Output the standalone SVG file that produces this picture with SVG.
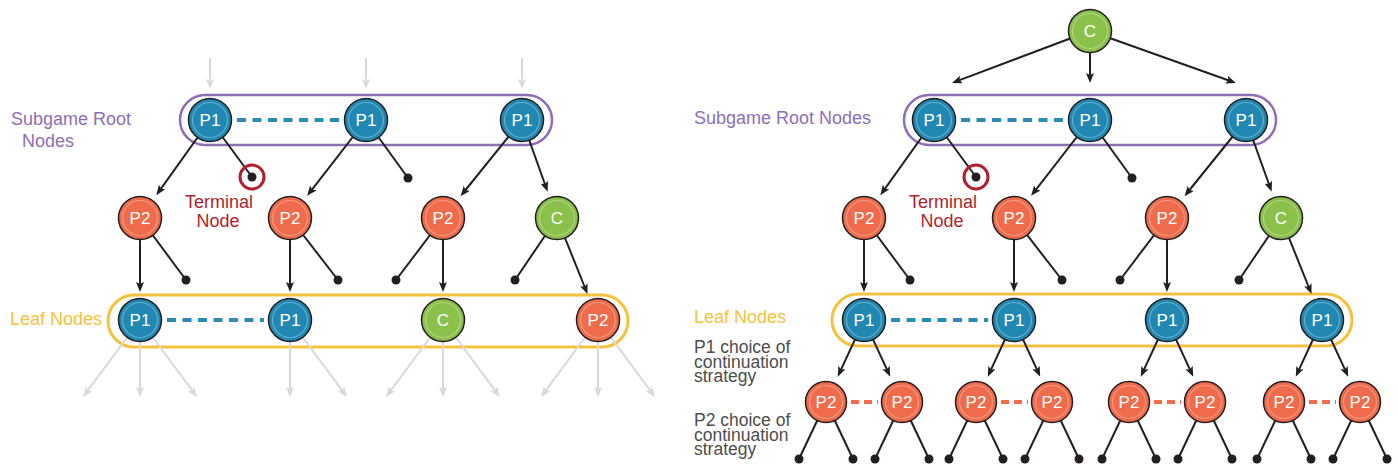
<svg xmlns="http://www.w3.org/2000/svg" width="1398" height="466" viewBox="0 0 1398 466">
<defs>
<style>
.bg{fill:#fff}
.o{stroke:#231f20;stroke-width:1.5}
.blue{fill:#2088b2}
.orange{fill:#ef6b4b}
.green{fill:#8bc04a}
.ring{fill:none;stroke:#fff;stroke-opacity:.32;stroke-width:1.2}
.nt{fill:#fff;font-family:"Liberation Sans",Arial,sans-serif;font-size:17px;text-anchor:middle}
.e{stroke:#231f20;stroke-width:2;fill:none}
.ea{stroke:#231f20;stroke-width:2;fill:none;marker-end:url(#ah)}
.g{stroke:#d9d9d9;stroke-width:2;fill:none;marker-end:url(#gh)}
.dot{fill:#231f20}
.dB{stroke:#2a8db5;stroke-width:4;stroke-dasharray:9 6.5;fill:none}
.dO{stroke:#f26b4c;stroke-width:4;stroke-dasharray:8 5;fill:none}
.purple{fill:none;stroke:#8d6fb4;stroke-width:2.5}
.yellow{fill:none;stroke:#f5c23e;stroke-width:3}
.lab{font-family:"Liberation Sans",Arial,sans-serif;font-size:18px}
.sm{font-size:17.5px}
.lp{fill:#8d6fb4}
.ly{fill:#f5c23e}
.lr{fill:#b11f2e;text-anchor:middle}
.lg{fill:#4d4d4d}
.term{fill:none;stroke:#b11f2e;stroke-width:3}
</style>
<marker id="ah" viewBox="0 0 10 8" refX="4" refY="4" markerWidth="10" markerHeight="8" markerUnits="userSpaceOnUse" orient="auto">
<path d="M0,0 L10,4 L0,8 L2,4 z" fill="#231f20"/>
</marker>
<marker id="gh" viewBox="0 0 10 8" refX="4" refY="4" markerWidth="10" markerHeight="8" markerUnits="userSpaceOnUse" orient="auto">
<path d="M0,0 L10,4 L0,8 L2,4 z" fill="#d9d9d9"/>
</marker>
</defs>
<rect class="bg" x="0" y="0" width="1398" height="466"/>

<g id="groups">
<rect class="purple" x="180" y="95" width="372" height="50" rx="25"/>
<rect class="yellow" x="108" y="295" width="520" height="52" rx="26"/>
<rect class="purple" x="904" y="95" width="372" height="50" rx="25"/>
<rect class="yellow" x="832" y="294" width="520" height="52" rx="26"/>
</g>

<g id="labels">
<text class="lab lp" x="11" y="125">Subgame Root</text>
<text class="lab lp" x="22" y="147">Nodes</text>
<text class="lab ly" x="10" y="325">Leaf Nodes</text>
<text class="lab lr" x="219" y="208">Terminal</text>
<text class="lab lr" x="218" y="227">Node</text>
<text class="lab lp" x="694" y="124">Subgame Root Nodes</text>
<text class="lab ly" x="694" y="323">Leaf Nodes</text>
<text class="lab lr" x="943" y="208">Terminal</text>
<text class="lab lr" x="942" y="227">Node</text>
<text class="lab sm lg" x="694" y="353">P1 choice of</text>
<text class="lab sm lg" x="694" y="368">continuation</text>
<text class="lab sm lg" x="694" y="382">strategy</text>
<text class="lab sm lg" x="694" y="426">P2 choice of</text>
<text class="lab sm lg" x="694" y="441">continuation</text>
<text class="lab sm lg" x="694" y="455">strategy</text>
</g>

<g id="connectors">
<line class="g" x1="210" y1="58" x2="210" y2="83"/>
<line class="g" x1="366" y1="58" x2="366" y2="83"/>
<line class="g" x1="522" y1="58" x2="522" y2="83"/>
<line class="ea" x1="210" y1="120" x2="159.8" y2="190.3"/>
<line class="e" x1="210" y1="120" x2="252" y2="177"/>
<line class="ea" x1="366" y1="120" x2="310.8" y2="191.1"/>
<line class="e" x1="366" y1="120" x2="408" y2="178"/>
<line class="ea" x1="522" y1="120" x2="464.3" y2="191.5"/>
<line class="ea" x1="522" y1="120" x2="545.6" y2="186"/>
<line class="ea" x1="140" y1="218" x2="140" y2="286"/>
<line class="e" x1="140" y1="218" x2="186" y2="280"/>
<line class="ea" x1="290" y1="218" x2="290" y2="286"/>
<line class="e" x1="290" y1="218" x2="338" y2="280"/>
<line class="ea" x1="443" y1="218" x2="443" y2="286"/>
<line class="e" x1="443" y1="218" x2="396" y2="280"/>
<line class="ea" x1="557" y1="218" x2="585.3" y2="288.5"/>
<line class="e" x1="557" y1="218" x2="515" y2="280"/>
<line class="g" x1="140" y1="320" x2="86.6" y2="392.2"/>
<line class="g" x1="140" y1="320" x2="140" y2="391"/>
<line class="g" x1="140" y1="320" x2="193.4" y2="392.2"/>
<line class="g" x1="290" y1="320" x2="290" y2="391"/>
<line class="g" x1="290" y1="320" x2="343.4" y2="392.2"/>
<line class="g" x1="443" y1="320" x2="389.6" y2="392.2"/>
<line class="g" x1="443" y1="320" x2="443" y2="391"/>
<line class="g" x1="443" y1="320" x2="496.4" y2="392.2"/>
<line class="g" x1="598" y1="320" x2="544.6" y2="392.2"/>
<line class="g" x1="598" y1="320" x2="598" y2="391"/>
<line class="g" x1="598" y1="320" x2="651.4" y2="392.2"/>
<line class="dB" x1="237" y1="120" x2="340" y2="120"/>
<line class="dB" x1="167" y1="320" x2="264" y2="320"/>

<line class="ea" x1="1090" y1="31" x2="957.6" y2="80.9"/>
<line class="ea" x1="1090" y1="31" x2="1090" y2="77"/>
<line class="ea" x1="1090" y1="31" x2="1230.3" y2="81"/>
<line class="ea" x1="934" y1="120" x2="883.8" y2="190.3"/>
<line class="e" x1="934" y1="120" x2="976" y2="177"/>
<line class="ea" x1="1090" y1="120" x2="1034.8" y2="191.1"/>
<line class="e" x1="1090" y1="120" x2="1132" y2="178"/>
<line class="ea" x1="1246" y1="120" x2="1188.3" y2="191.5"/>
<line class="ea" x1="1246" y1="120" x2="1269.6" y2="186"/>
<line class="ea" x1="864" y1="218" x2="864" y2="286"/>
<line class="e" x1="864" y1="218" x2="910" y2="280"/>
<line class="ea" x1="1014" y1="218" x2="1014" y2="286"/>
<line class="e" x1="1014" y1="218" x2="1062" y2="280"/>
<line class="ea" x1="1167" y1="218" x2="1167" y2="286"/>
<line class="e" x1="1167" y1="218" x2="1120" y2="280"/>
<line class="ea" x1="1281" y1="218" x2="1309.3" y2="288.5"/>
<line class="e" x1="1281" y1="218" x2="1239" y2="280"/>
<line class="ea" x1="864" y1="320" x2="840.3" y2="371.2"/>
<line class="ea" x1="864" y1="320" x2="887.7" y2="371.2"/>
<line class="ea" x1="1014" y1="320" x2="990.3" y2="371.2"/>
<line class="ea" x1="1014" y1="320" x2="1037.7" y2="371.2"/>
<line class="ea" x1="1167" y1="320" x2="1143.3" y2="371.2"/>
<line class="ea" x1="1167" y1="320" x2="1190.7" y2="371.2"/>
<line class="ea" x1="1322" y1="320" x2="1298.3" y2="371.2"/>
<line class="ea" x1="1322" y1="320" x2="1345.7" y2="371.2"/>
<line class="e" x1="826" y1="402" x2="799" y2="459"/>
<line class="e" x1="826" y1="402" x2="853" y2="459"/>
<line class="e" x1="902" y1="402" x2="875" y2="459"/>
<line class="e" x1="902" y1="402" x2="929" y2="459"/>
<line class="e" x1="976" y1="402" x2="949" y2="459"/>
<line class="e" x1="976" y1="402" x2="1003" y2="459"/>
<line class="e" x1="1052" y1="402" x2="1025" y2="459"/>
<line class="e" x1="1052" y1="402" x2="1079" y2="459"/>
<line class="e" x1="1129" y1="402" x2="1102" y2="459"/>
<line class="e" x1="1129" y1="402" x2="1156" y2="459"/>
<line class="e" x1="1205" y1="402" x2="1178" y2="459"/>
<line class="e" x1="1205" y1="402" x2="1232" y2="459"/>
<line class="e" x1="1284" y1="402" x2="1257" y2="459"/>
<line class="e" x1="1284" y1="402" x2="1311" y2="459"/>
<line class="e" x1="1360" y1="402" x2="1333" y2="459"/>
<line class="e" x1="1360" y1="402" x2="1387" y2="459"/>
<line class="dB" x1="961" y1="120" x2="1064" y2="120"/>
<line class="dB" x1="891" y1="320" x2="988" y2="320"/>
<line class="dO" x1="851" y1="402" x2="878" y2="402"/>
<line class="dO" x1="1001" y1="402" x2="1028" y2="402"/>
<line class="dO" x1="1154" y1="402" x2="1181" y2="402"/>
<line class="dO" x1="1309" y1="402" x2="1336" y2="402"/>
</g>

<g id="terminals">
<circle class="term" cx="252" cy="177" r="12"/>
<circle class="dot" cx="252" cy="177" r="4.5"/>
<circle class="dot" cx="408" cy="178" r="4.5"/>
<circle class="dot" cx="186" cy="280" r="4.5"/>
<circle class="dot" cx="338" cy="280" r="4.5"/>
<circle class="dot" cx="396" cy="280" r="4.5"/>
<circle class="dot" cx="515" cy="280" r="4.5"/>
<circle class="term" cx="976" cy="177" r="12"/>
<circle class="dot" cx="976" cy="177" r="4.5"/>
<circle class="dot" cx="1132" cy="178" r="4.5"/>
<circle class="dot" cx="910" cy="280" r="4.5"/>
<circle class="dot" cx="1062" cy="280" r="4.5"/>
<circle class="dot" cx="1120" cy="280" r="4.5"/>
<circle class="dot" cx="1239" cy="280" r="4.5"/>
<circle class="dot" cx="799" cy="459" r="4.5"/>
<circle class="dot" cx="853" cy="459" r="4.5"/>
<circle class="dot" cx="875" cy="459" r="4.5"/>
<circle class="dot" cx="929" cy="459" r="4.5"/>
<circle class="dot" cx="949" cy="459" r="4.5"/>
<circle class="dot" cx="1003" cy="459" r="4.5"/>
<circle class="dot" cx="1025" cy="459" r="4.5"/>
<circle class="dot" cx="1079" cy="459" r="4.5"/>
<circle class="dot" cx="1102" cy="459" r="4.5"/>
<circle class="dot" cx="1156" cy="459" r="4.5"/>
<circle class="dot" cx="1178" cy="459" r="4.5"/>
<circle class="dot" cx="1232" cy="459" r="4.5"/>
<circle class="dot" cx="1257" cy="459" r="4.5"/>
<circle class="dot" cx="1311" cy="459" r="4.5"/>
<circle class="dot" cx="1333" cy="459" r="4.5"/>
<circle class="dot" cx="1387" cy="459" r="4.5"/>
</g>

<g id="L-root-1"><circle class="o blue" cx="210" cy="120" r="21.5"/><circle class="ring" cx="210" cy="120" r="17.5"/><text class="nt" x="210" y="126">P1</text></g>
<g id="L-root-2"><circle class="o blue" cx="366" cy="120" r="21.5"/><circle class="ring" cx="366" cy="120" r="17.5"/><text class="nt" x="366" y="126">P1</text></g>
<g id="L-root-3"><circle class="o blue" cx="522" cy="120" r="21.5"/><circle class="ring" cx="522" cy="120" r="17.5"/><text class="nt" x="522" y="126">P1</text></g>
<g id="L-mid-1"><circle class="o orange" cx="140" cy="218" r="21.5"/><circle class="ring" cx="140" cy="218" r="17.5"/><text class="nt" x="140" y="224">P2</text></g>
<g id="L-mid-2"><circle class="o orange" cx="290" cy="218" r="21.5"/><circle class="ring" cx="290" cy="218" r="17.5"/><text class="nt" x="290" y="224">P2</text></g>
<g id="L-mid-3"><circle class="o orange" cx="443" cy="218" r="21.5"/><circle class="ring" cx="443" cy="218" r="17.5"/><text class="nt" x="443" y="224">P2</text></g>
<g id="L-mid-4"><circle class="o green" cx="557" cy="218" r="21.5"/><circle class="ring" cx="557" cy="218" r="17.5"/><text class="nt" x="557" y="224">C</text></g>
<g id="L-leaf-1"><circle class="o blue" cx="140" cy="320" r="21.5"/><circle class="ring" cx="140" cy="320" r="17.5"/><text class="nt" x="140" y="326">P1</text></g>
<g id="L-leaf-2"><circle class="o blue" cx="290" cy="320" r="21.5"/><circle class="ring" cx="290" cy="320" r="17.5"/><text class="nt" x="290" y="326">P1</text></g>
<g id="L-leaf-3"><circle class="o green" cx="443" cy="320" r="21.5"/><circle class="ring" cx="443" cy="320" r="17.5"/><text class="nt" x="443" y="326">C</text></g>
<g id="L-leaf-4"><circle class="o orange" cx="598" cy="320" r="21.5"/><circle class="ring" cx="598" cy="320" r="17.5"/><text class="nt" x="598" y="326">P2</text></g>

<g id="R-top"><circle class="o green" cx="1090" cy="31" r="21.5"/><circle class="ring" cx="1090" cy="31" r="17.5"/><text class="nt" x="1090" y="37">C</text></g>
<g id="R-root-1"><circle class="o blue" cx="934" cy="120" r="21.5"/><circle class="ring" cx="934" cy="120" r="17.5"/><text class="nt" x="934" y="126">P1</text></g>
<g id="R-root-2"><circle class="o blue" cx="1090" cy="120" r="21.5"/><circle class="ring" cx="1090" cy="120" r="17.5"/><text class="nt" x="1090" y="126">P1</text></g>
<g id="R-root-3"><circle class="o blue" cx="1246" cy="120" r="21.5"/><circle class="ring" cx="1246" cy="120" r="17.5"/><text class="nt" x="1246" y="126">P1</text></g>
<g id="R-mid-1"><circle class="o orange" cx="864" cy="218" r="21.5"/><circle class="ring" cx="864" cy="218" r="17.5"/><text class="nt" x="864" y="224">P2</text></g>
<g id="R-mid-2"><circle class="o orange" cx="1014" cy="218" r="21.5"/><circle class="ring" cx="1014" cy="218" r="17.5"/><text class="nt" x="1014" y="224">P2</text></g>
<g id="R-mid-3"><circle class="o orange" cx="1167" cy="218" r="21.5"/><circle class="ring" cx="1167" cy="218" r="17.5"/><text class="nt" x="1167" y="224">P2</text></g>
<g id="R-mid-4"><circle class="o green" cx="1281" cy="218" r="21.5"/><circle class="ring" cx="1281" cy="218" r="17.5"/><text class="nt" x="1281" y="224">C</text></g>
<g id="R-leaf-1"><circle class="o blue" cx="864" cy="320" r="21.5"/><circle class="ring" cx="864" cy="320" r="17.5"/><text class="nt" x="864" y="326">P1</text></g>
<g id="R-leaf-2"><circle class="o blue" cx="1014" cy="320" r="21.5"/><circle class="ring" cx="1014" cy="320" r="17.5"/><text class="nt" x="1014" y="326">P1</text></g>
<g id="R-leaf-3"><circle class="o blue" cx="1167" cy="320" r="21.5"/><circle class="ring" cx="1167" cy="320" r="17.5"/><text class="nt" x="1167" y="326">P1</text></g>
<g id="R-leaf-4"><circle class="o blue" cx="1322" cy="320" r="21.5"/><circle class="ring" cx="1322" cy="320" r="17.5"/><text class="nt" x="1322" y="326">P1</text></g>
<g id="R-cont-1"><circle class="o orange" cx="826" cy="402" r="20.5"/><circle class="ring" cx="826" cy="402" r="16.5"/><text class="nt" x="826" y="408">P2</text></g>
<g id="R-cont-2"><circle class="o orange" cx="902" cy="402" r="20.5"/><circle class="ring" cx="902" cy="402" r="16.5"/><text class="nt" x="902" y="408">P2</text></g>
<g id="R-cont-3"><circle class="o orange" cx="976" cy="402" r="20.5"/><circle class="ring" cx="976" cy="402" r="16.5"/><text class="nt" x="976" y="408">P2</text></g>
<g id="R-cont-4"><circle class="o orange" cx="1052" cy="402" r="20.5"/><circle class="ring" cx="1052" cy="402" r="16.5"/><text class="nt" x="1052" y="408">P2</text></g>
<g id="R-cont-5"><circle class="o orange" cx="1129" cy="402" r="20.5"/><circle class="ring" cx="1129" cy="402" r="16.5"/><text class="nt" x="1129" y="408">P2</text></g>
<g id="R-cont-6"><circle class="o orange" cx="1205" cy="402" r="20.5"/><circle class="ring" cx="1205" cy="402" r="16.5"/><text class="nt" x="1205" y="408">P2</text></g>
<g id="R-cont-7"><circle class="o orange" cx="1284" cy="402" r="20.5"/><circle class="ring" cx="1284" cy="402" r="16.5"/><text class="nt" x="1284" y="408">P2</text></g>
<g id="R-cont-8"><circle class="o orange" cx="1360" cy="402" r="20.5"/><circle class="ring" cx="1360" cy="402" r="16.5"/><text class="nt" x="1360" y="408">P2</text></g>
</svg>
